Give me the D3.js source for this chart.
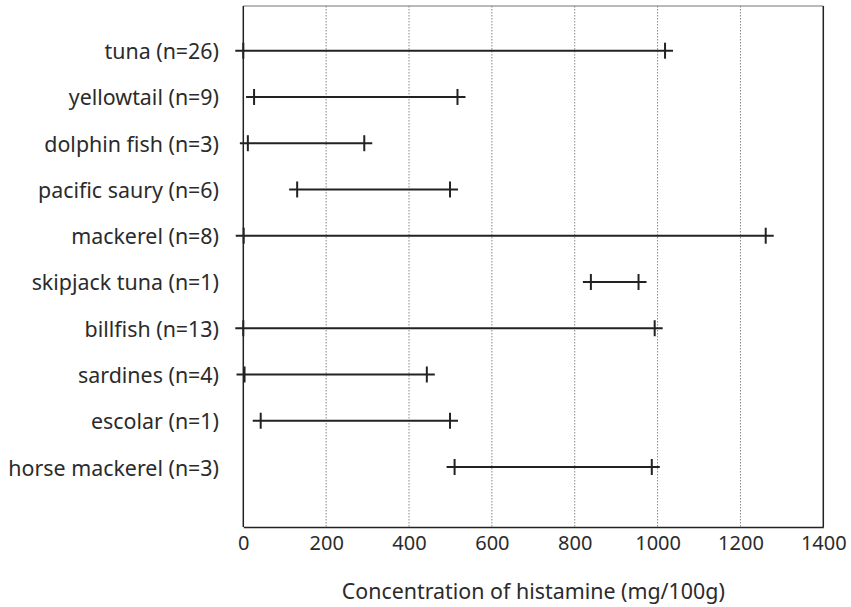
<!DOCTYPE html>
<html><head><meta charset="utf-8">
<script src="https://cdn.jsdelivr.net/npm/d3@7"></script>
<style>body{margin:0;background:#fff}svg{display:block}text{font-family:"Noto Sans",sans-serif;fill:#2b2b2b}</style>
</head><body>
<svg id="c" width="851" height="607"></svg>
<script>
const categories = ["tuna (n=26)","yellowtail (n=9)","dolphin fish (n=3)","pacific saury (n=6)","mackerel (n=8)","skipjack tuna (n=1)","billfish (n=13)","sardines (n=4)","escolar (n=1)","horse mackerel (n=3)"];
const minValues = [0, 26, 11, 130, 1, 839, 0, 3, 42, 510];
const maxValues = [1018, 517, 292, 499, 1261, 954, 993, 443, 499, 986];
const xTicks = [0,200,400,600,800,1000,1200,1400];
const xTitle = "Concentration of histamine (mg/100g)";

const svg = d3.select("#c");
const L = 243.3, R = 823.3, T = 6, B = 527;
const x = d3.scaleLinear().domain([0,1400]).range([L,R]);
const y = d3.scalePoint().domain(categories).range([50.7, 467]);

// grid
svg.append("g").selectAll("line").data(xTicks.slice(1,-1)).join("line")
  .attr("x1",d=>x(d)).attr("x2",d=>x(d)).attr("y1",T).attr("y2",B)
  .attr("stroke","#888").attr("stroke-width",1).attr("stroke-dasharray","1.5,1.5");
// frame
svg.append("line").attr("x1",L).attr("x2",R).attr("y1",T).attr("y2",T).attr("stroke","#777").attr("stroke-width",1.2);
svg.append("line").attr("x1",R).attr("x2",R).attr("y1",T).attr("y2",B).attr("stroke","#222").attr("stroke-width",1.5);
svg.append("line").attr("x1",L).attr("x2",L).attr("y1",T).attr("y2",B).attr("stroke","#222").attr("stroke-width",1.5);

// x axis
const xa = svg.append("g").attr("transform",`translate(0,${B})`)
  .call(d3.axisBottom(x).tickValues(xTicks).tickSize(0).tickPadding(9).tickFormat(d3.format("d")));
xa.select(".domain").attr("stroke","#222").attr("stroke-width",1.5);
xa.selectAll("text").style("font-size","20px").style("font-family","'Noto Sans',sans-serif").attr("fill","#2b2b2b");

// y labels
svg.append("g").selectAll("text").data(categories).join("text")
  .attr("x",219).attr("y",d=>y(d)).attr("text-anchor","end").attr("dominant-baseline","central")
  .style("font-size","21.4px").text(d=>d);

// ranges
const rows = categories.map((c,i)=>({c,min:minValues[i],max:maxValues[i]}));
const g = svg.append("g");
const hw = 8;
g.selectAll("line.r").data(rows).join("line").attr("class","r")
  .attr("x1",d=>x(d.min)-hw).attr("x2",d=>x(d.max)+hw).attr("y1",d=>y(d.c)).attr("y2",d=>y(d.c))
  .attr("stroke","#222").attr("stroke-width",2);
const ends = rows.flatMap(d=>[{c:d.c,v:d.min},{c:d.c,v:d.max}]);
g.selectAll("line.t").data(ends).join("line").attr("class","t")
  .attr("x1",d=>x(d.v)).attr("x2",d=>x(d.v)).attr("y1",d=>y(d.c)-hw).attr("y2",d=>y(d.c)+hw)
  .attr("stroke","#222").attr("stroke-width",2);

svg.append("text").attr("x",(L+R)/2).attr("y",590).attr("text-anchor","middle").attr("dominant-baseline","central")
  .style("font-size","21.4px").text(xTitle);
</script>
</body></html>
